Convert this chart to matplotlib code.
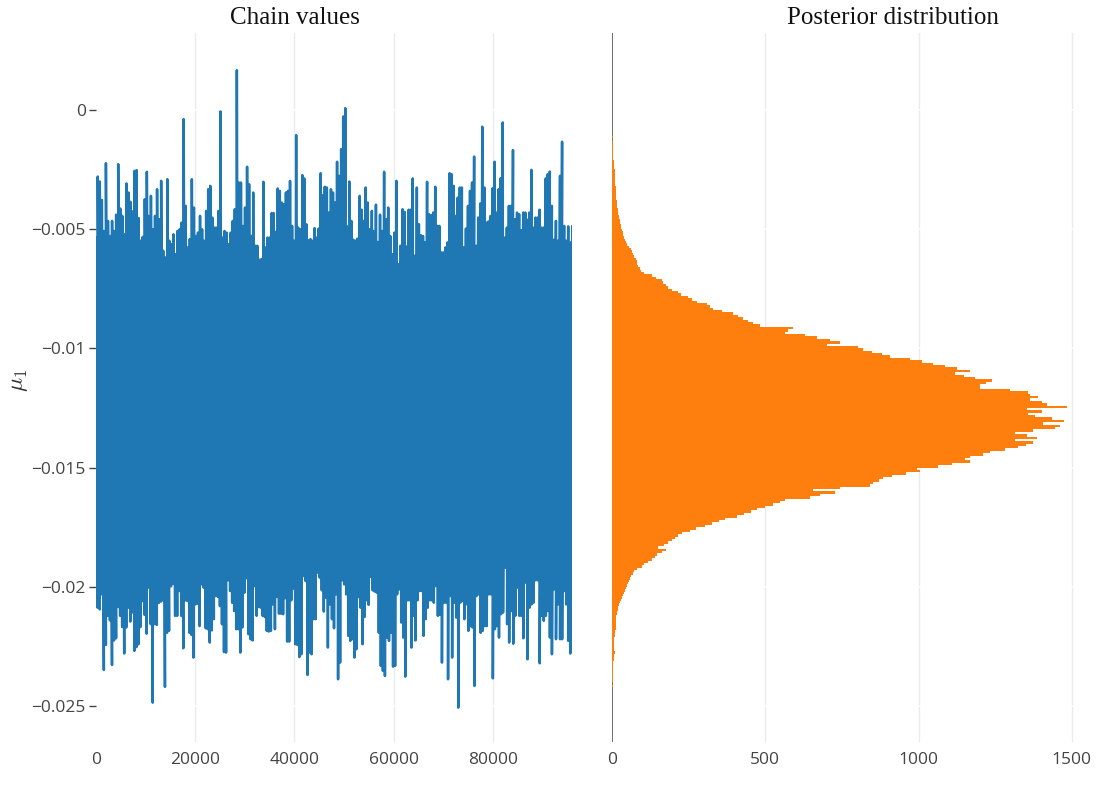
import numpy as np
import matplotlib
matplotlib.use("Agg")
import matplotlib.pyplot as plt

# ---------------- data ----------------
n_samples = 96000

# upper envelope of the chain trace (units of 1e-3), left to right
chain_upper = [
    -5.36, -2.80, -3.01, -3.78, -5.08, -2.24, -4.66, -5.29, -4.66, -5.08, -4.40, -2.28, -4.14, -4.45, -5.22,
    -3.09, -3.47, -3.86, -4.26, -2.56, -2.53, -4.54, -5.49, -5.33, -3.75, -2.60, -4.45, -3.61, -5.01, -4.45,
    -3.33, -4.59, -2.98, -5.91, -6.19, -2.91, -5.49, -5.63, -5.22, -6.05, -5.08, -5.01, -4.73, -0.39, -4.03,
    -5.77, -5.42, -2.91, -4.10, -5.29, -5.15, -4.45, -5.01, -5.49, -4.24, -3.33, -3.19, -4.52, -4.94, -4.94,
    -4.24, -0.07, -5.36, -5.08, -5.15, -5.63, -5.15, -4.66, -4.17, 1.66, -3.05, -3.05, -4.87, -4.10, -2.39,
    -3.12, -5.29, -3.47, -5.70, -5.70, -6.29, -6.26, -3.02, -5.77, -5.36, -5.36, -4.33, -4.33, -5.12, -3.30,
    -3.40, -3.89, -3.96, -3.47, -3.40, -2.98, -4.87, -5.49, -1.06, -4.94, -5.01, -2.74, -2.88, -4.80, -5.47,
    -5.42, -5.49, -4.96, -5.36, -4.98, -2.66, -3.58, -3.23, -3.26, -4.31, -3.33, -3.47, -3.89,
    -2.18, -2.77, -1.65, -0.28, 0.07, -4.89, -3.01, -4.66, -5.45, -5.49, -5.40, -3.61, -4.19, -4.66, -3.26,
    -3.89, -5.01, -4.24, -5.08, -3.98, -5.54, -4.40, -5.08, -2.60, -4.59, -4.10, -5.29, -6.05, -5.15, -2.98,
    -6.47, -5.70, -4.17, -4.28, -5.73, -4.19, -4.19, -2.88, -6.12, -3.26, -4.80, -5.26, -5.29, -5.56, -3.02,
    -4.38, -4.42, -4.31, -3.23, -4.87, -4.87, -5.98, -5.98, -5.77, -5.56, -2.66, -2.70, -3.19, -4.45, -3.68,
    -3.26, -3.26, -5.77, -4.98, -4.03, -3.40, -3.05, -1.96, -5.70, -4.52, -3.93, -0.71, -3.26, -4.73, -4.68,
    -4.45, -3.29, -2.18, -4.31, -3.33, -2.87, -0.53, -5.36, -4.94, -4.03, -4.03, -1.69, -4.59, -4.31, -4.38,
    -5.05, -4.31, -4.31, -4.61, -4.31, -2.52, -4.94, -4.52, -4.52, -4.19, -4.94, -4.94, -2.88, -2.70, -2.59,
    -4.03, -5.45, -4.66, -5.49, -2.77, -1.34, -4.87, -5.49, -4.89, -5.56, -4.87,
]

# lower envelope of the chain trace (units of 1e-3), left to right
chain_lower = [
    -20.74, -20.88, -20.95, -20.32, -23.49, -22.44, -21.22, -21.41, -23.28, -22.25, -22.16, -20.85, -21.22,
    -21.69, -22.80, -21.71, -20.88, -21.46, -21.08, -22.69, -22.53, -22.41, -21.69, -20.60, -21.18, -21.97,
    -20.04, -21.57, -24.86, -21.57, -21.60, -20.68, -20.62, -20.57, -24.20, -21.93, -21.85, -19.98, -19.87,
    -21.22, -21.22, -20.18, -21.22, -22.58, -20.57, -20.60, -21.93, -22.02, -22.97, -20.74, -20.71, -21.65,
    -19.90, -20.04, -21.74, -21.78, -22.34, -21.83, -21.36, -20.39, -20.43, -20.81, -21.57, -22.74, -22.76,
    -19.73, -20.18, -20.67, -21.02, -21.78, -21.78, -22.76, -21.71, -20.25, -19.64, -21.99, -22.20, -22.25,
    -19.97, -21.22, -20.85, -20.88, -21.22, -21.27, -21.85, -21.88, -21.85, -20.74, -21.78, -20.43, -21.13,
    -21.13, -21.15, -20.48, -22.30, -22.30, -20.57, -20.08, -22.41, -22.44, -22.95, -22.83, -19.55, -19.76,
    -23.70, -22.76, -22.83, -21.36, -21.36, -19.41, -19.62, -20.15, -21.04, -20.46, -22.55, -20.74, -21.36,
    -21.74, -20.32, -23.88,
    -23.18, -19.73, -19.90, -20.32, -22.06, -22.27, -22.20, -22.97, -22.62, -20.43, -20.88, -22.41, -21.27,
    -20.57, -20.76, -19.59, -20.15, -20.20, -20.25, -21.93, -23.32, -23.53, -23.74, -22.13, -22.27, -21.93,
    -23.35, -23.32, -20.32, -20.11, -21.50, -22.13, -23.77, -20.57, -20.57, -22.55, -21.22, -22.25, -20.57,
    -20.18, -20.18, -22.06, -21.36, -20.88, -20.57, -20.57, -20.67, -19.97, -21.22, -21.18, -23.18, -20.67,
    -20.67, -23.88, -20.39, -22.97, -20.67, -21.29, -25.07, -20.67, -20.60, -21.36, -20.74, -21.85, -21.65,
    -21.71, -24.16, -20.39, -20.32, -21.93, -21.85, -21.65, -21.65, -20.32, -20.32, -23.84, -21.78, -21.65,
    -22.13, -21.15, -21.08, -19.20, -21.57, -22.34, -21.02, -22.39, -21.22, -20.04, -21.22, -21.22, -22.16,
    -19.83, -23.04, -20.88, -20.74, -20.67, -19.73, -19.73, -23.21, -21.22, -21.43, -21.22, -21.02, -22.13,
    -22.83, -20.11, -22.20, -20.74, -22.20, -22.20, -20.18, -20.74, -22.27, -22.80, -20.25,
]

# posterior histogram: bins of width 0.0001 starting at -0.0252 (ascending)
hist_start = -0.0252
hist_width = 0.0001
hist_counts = [
    0, 1, 0, 1, 1, 0, 1, 1, 0, 1,
    2, 1, 2, 2, 2, 3, 2, 3, 3, 4,
    3, 5, 6, 8, 10, 7, 6, 7, 7, 8,
    8, 9, 10, 11, 12, 12, 12, 13, 13, 13,
    15, 17, 18, 21, 24, 26, 29, 32, 35, 38,
    42, 45, 49, 53, 55, 58, 62, 68, 72, 82,
    98, 105, 118, 131, 140, 146, 162, 175, 151, 170,
    184, 195, 205, 215, 227, 254, 275, 305, 325, 350,
    370, 407, 430, 455, 472, 499, 525, 548, 565, 646,
    679, 728, 657, 744, 842, 853, 870, 885, 912, 960,
    1005, 994, 1065, 1108, 1168, 1152, 1168, 1210, 1233, 1282,
    1326, 1350, 1375, 1315, 1386, 1353, 1315, 1375, 1446, 1462,
    1407, 1475, 1435, 1380, 1358, 1402, 1354, 1483, 1420, 1402,
    1364, 1391, 1364, 1358, 1300, 1201, 1201, 1220, 1239, 1184,
    1150, 1119, 1168, 1125, 1085, 1048, 1010, 972, 907, 880,
    847, 820, 804, 700, 744, 711, 670, 630, 565, 575,
    590, 483, 461, 445, 428, 410, 395, 360, 330, 320,
    309, 276, 260, 248, 225, 215, 195, 183, 175, 168,
    162, 145, 129, 105, 95, 91, 85, 82, 80, 78,
    72, 68, 64, 62, 55, 50, 46, 43, 40, 37,
    35, 32, 30, 28, 26, 25, 23, 22, 20, 19,
    18, 17, 16, 15, 14, 14, 13, 13, 12, 12,
    11, 11, 10, 10, 10, 10, 9, 8, 7, 6,
    5, 4, 4, 3, 3, 2, 3, 2, 2, 1,
    2, 1, 1, 1, 0, 1, 1, 0, 1, 0,
    1, 0, 1, 0, 0, 0, 1, 0, 0, 0,
    0, 0, 0, 0, 0, 0, 0, 1, 1,
]

left_title = "Chain values"
right_title = "Posterior distribution"
y_label = r"$\mu_1$"
x_ticks_left = [0, 20000, 40000, 60000, 80000]
x_ticks_right = [0, 500, 1000, 1500]
y_ticks = [0, -0.005, -0.01, -0.015, -0.02, -0.025]
y_tick_labels = ["0", "\u22120.005", "\u22120.01", "\u22120.015", "\u22120.02", "\u22120.025"]

# ---------------- style ----------------
plt.rcParams["font.family"] = ["Open Sans", "DejaVu Sans"]
plt.rcParams["mathtext.fontset"] = "cm"
BLUE = "#1f77b4"
ORANGE = "#ff7f0e"
GRID = "#ebebeb"
TICK = "#444444"
LABEL_SIZE = 12.5

W, H = 1120, 810
fig = plt.figure(figsize=(W / 100, H / 100), dpi=100)


def rect(l, t, r, b):
    return [l / W, 1 - b / H, (r - l) / W, (b - t) / H]


ax1 = fig.add_axes(rect(95.7, 33, 572.3, 742))
ax2 = fig.add_axes(rect(612, 33, 1092, 742), sharey=ax1)

# ---------------- chain trace ----------------
up = np.asarray(chain_upper) * 1e-3
lo = np.asarray(chain_lower) * 1e-3
xu = np.linspace(0, n_samples, len(up))
xl = np.linspace(0, n_samples, len(lo))
xs = np.concatenate([xu, xl])
ys = np.concatenate([up, lo])
order = np.argsort(xs, kind="stable")
ax1.plot(xs[order], ys[order], color=BLUE, lw=1.8, solid_joinstyle="round", zorder=3)

# ---------------- histogram ----------------
edges = hist_start + hist_width * np.arange(len(hist_counts) + 1)
ax2.stairs(hist_counts, edges, orientation="horizontal", fill=True, color=ORANGE, zorder=3)
ax2.axvline(0, color=TICK, lw=1.1, zorder=2)

# ---------------- axes styling ----------------
ax1.set_xlim(0, n_samples)
ax2.set_xlim(0, 1566)
ax1.set_ylim(-0.02651, 0.00322)

for ax in (ax1, ax2):
    for s in ax.spines.values():
        s.set_visible(False)
    ax.set_axisbelow(True)
    ax.grid(axis="x", color=GRID, lw=1.0, zorder=0)
    ax.grid(axis="y", color="white", lw=1.2, zorder=0)
    ax.tick_params(axis="x", length=0, pad=7, labelsize=LABEL_SIZE, labelcolor=TICK)

ax1.set_xticks(x_ticks_left)
ax1.set_xticklabels([str(v) for v in x_ticks_left])
ax2.set_xticks(x_ticks_right)
ax2.set_xticklabels([str(v) for v in x_ticks_right])

ax1.set_yticks(y_ticks)
ax1.set_yticklabels(y_tick_labels)
ax1.tick_params(axis="y", length=5, width=1, color=TICK, pad=2, labelsize=LABEL_SIZE, labelcolor=TICK)
ax2.tick_params(axis="y", length=0, labelleft=False)

# no gridline at x = 0 (left edge / zero line instead)
ax1.get_xgridlines()[0].set_visible(False)
ax2.get_xgridlines()[0].set_visible(False)

fig.text(295 / W, 1 - 18 / H, left_title, family="Liberation Serif", fontsize=18,
         color="#111111", ha="center", va="center")
fig.text(892.5 / W, 1 - 18 / H, right_title, family="Liberation Serif", fontsize=18,
         color="#111111", ha="center", va="center")
fig.text(18 / W, 1 - 380 / H, y_label, rotation=90, fontsize=17, color="#333333",
         ha="center", va="center")

fig.savefig("out.png", dpi=100, facecolor="white")
